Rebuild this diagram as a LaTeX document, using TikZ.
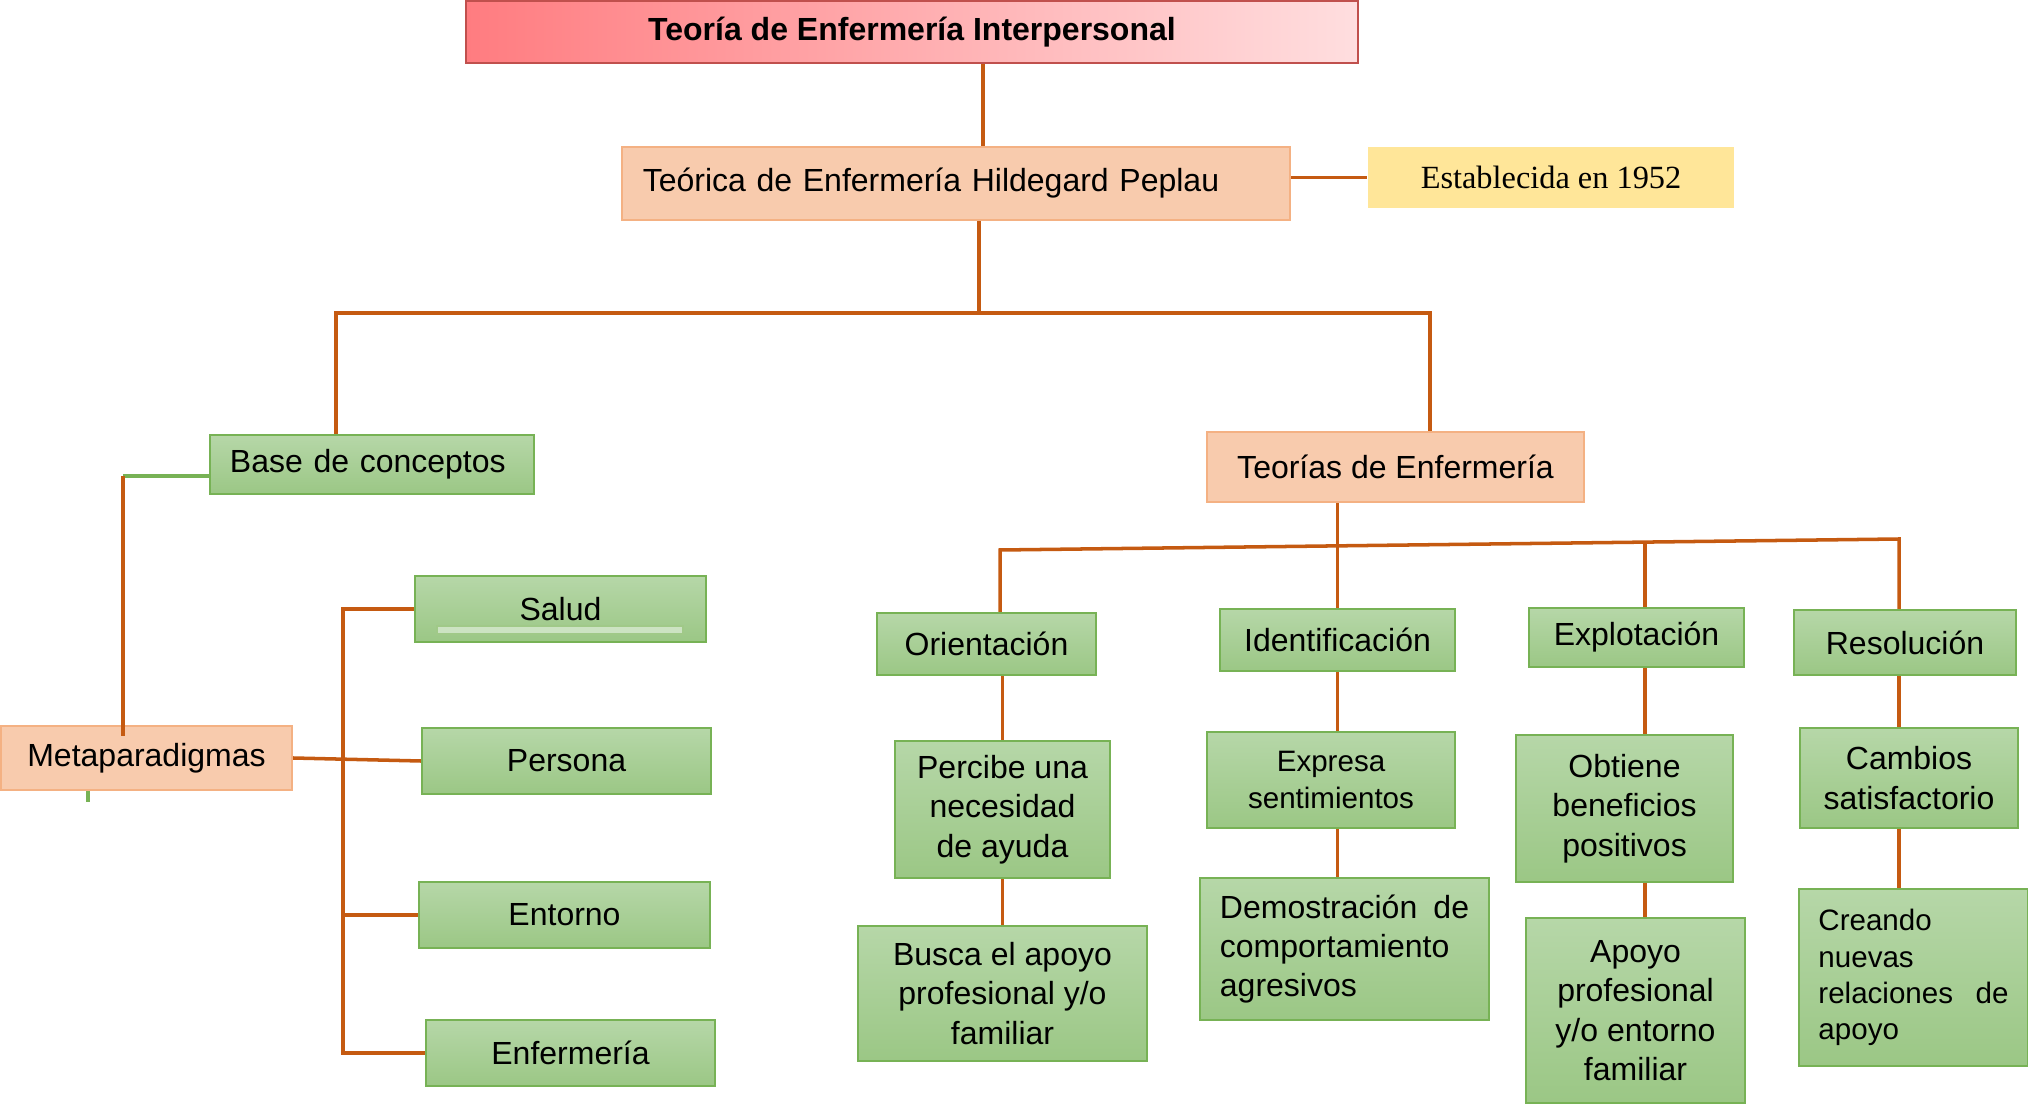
\documentclass[tikz,border=0pt]{standalone}
\usepackage{fontspec}
\setmainfont{Liberation Sans}
\newfontfamily\romana{Liberation Serif}
\usepackage{tikz}
\usetikzlibrary{calc}
\usepackage{xcolor}
\definecolor{naranja}{HTML}{C55A11}
\definecolor{verdeborde}{HTML}{77B255}
\definecolor{verdearriba}{HTML}{B6D7A8}
\definecolor{verdeabajo}{HTML}{9BC785}
\definecolor{durazno}{HTML}{F8CBAD}
\definecolor{duraznoborde}{HTML}{F4B183}
\definecolor{rojoborde}{HTML}{C0504D}
\definecolor{rojoizq}{HTML}{FF7C80}
\definecolor{rojoder}{HTML}{FFDEDF}
\definecolor{amarillo}{HTML}{FFE699}

\tikzset{
    caja/.style={rectangle, inner sep=0pt, font=\fontsize{9.1}{11.2}\selectfont},
    cajaverde/.style={caja, draw=verdeborde, line width=0.6pt, top color=verdearriba, bottom color=verdeabajo},
    cajadurazno/.style={caja, draw=duraznoborde, line width=0.6pt, fill=durazno},
    cajatitulo/.style={caja, draw=rojoborde, line width=0.6pt, left color=rojoizq, right color=rojoder, font=\fontsize{9.1}{11.2}\selectfont\bfseries},
    chica/.style={font=\fontsize{8.4}{10.3}\selectfont},
    conector/.style={draw=naranja, line width=1pt},
    conectorverde/.style={draw=verdeborde, line width=1pt}
}

\begin{document}
\begin{tikzpicture}[x=0.01cm, y=-0.01cm]
    \useasboundingbox (0,0) rectangle (2028,1104);
    % arriba
    \node[cajatitulo, minimum width=8.92cm, minimum height=0.62cm] (titulo) at (912,32) {Teoría de Enfermería Interpersonal};
    \node[cajadurazno, minimum width=6.68cm, minimum height=0.73cm, text width=6.26cm, align=left] (peplau) at (956,183.5) {Teórica de Enfermería Hildegard Peplau};
    \node[caja, fill=amarillo, minimum width=3.66cm, minimum height=0.61cm, font=\romana\fontsize{9.2}{11}\selectfont] (fecha) at (1551,177.5) {Establecida en 1952};
    \node[cajaverde, minimum width=3.24cm, minimum height=0.59cm, text width=2.84cm, align=left] (base) at (372,464.5) {Base de conceptos};
    \node[cajadurazno, minimum width=3.77cm, minimum height=0.70cm] (teorias) at (1395.5,467) {Teorías de Enfermería};
    % metaparadigmas
    \node[cajadurazno, minimum width=2.91cm, minimum height=0.64cm] (meta) at (146.5,758) {Metaparadigmas};
    \node[cajaverde, minimum width=2.91cm, minimum height=0.66cm] (salud) at (560.5,609) {Salud};
    \draw[draw=verdeborde!70, fill=verdearriba!70!white, line width=0.3pt] (437,626) rectangle (683,634);
    \node[cajaverde, minimum width=2.89cm, minimum height=0.66cm] (persona) at (566.5,761) {Persona};
    \node[cajaverde, minimum width=2.91cm, minimum height=0.66cm] (entorno) at (564.5,915) {Entorno};
    \node[cajaverde, minimum width=2.89cm, minimum height=0.66cm] (enfermeria) at (570.5,1053) {Enfermería};
    % fases
    \node[cajaverde, minimum width=2.19cm, minimum height=0.62cm] (orient) at (986.5,644) {Orientación};
    \node[cajaverde, minimum width=2.35cm, minimum height=0.62cm] (ident) at (1337.5,640) {Identificación};
    \node[cajaverde, minimum width=2.15cm, minimum height=0.59cm] (explot) at (1636.5,637.5) {Explotación};
    \node[cajaverde, minimum width=2.22cm, minimum height=0.65cm] (resol) at (1905,642.5) {Resolución};
    \node[cajaverde, minimum width=2.15cm, minimum height=1.37cm, align=center] (percibe) at (1002.5,809.5) {Percibe una\\necesidad\\de ayuda};
    \node[cajaverde, minimum width=2.89cm, minimum height=1.35cm, align=center] (busca) at (1002.5,993.5) {Busca el apoyo\\profesional y/o\\familiar};
    \node[cajaverde, chica, minimum width=2.48cm, minimum height=0.96cm, align=center] (expresa) at (1331,780) {Expresa\\sentimientos};
    \node[cajaverde, minimum width=2.89cm, minimum height=1.42cm, text width=2.49cm, align=left] (demo) at (1344.5,949) {Demostración\hfill de\\comportamiento\\agresivos};
    \node[cajaverde, minimum width=2.17cm, minimum height=1.47cm, align=center] (obtiene) at (1624.5,808.5) {Obtiene\\beneficios\\positivos};
    \node[cajaverde, minimum width=2.19cm, minimum height=1.85cm, align=center] (apoyo) at (1635.5,1010.5) {Apoyo\\profesional\\y/o entorno\\familiar};
    \node[cajaverde, minimum width=2.18cm, minimum height=1.00cm, align=center] (cambios) at (1909,778) {Cambios\\satisfactorio};
    \node[cajaverde, chica, minimum width=2.29cm, minimum height=1.77cm, text width=1.90cm, align=left] (creando) at (1913.5,977.5) {Creando\\nuevas\\relaciones\hfill de\\apoyo};

    % conectores
    \coordinate (nudo) at (979,313);
    \coordinate (barraI) at (336,313);
    \coordinate (barraD) at (1430,313);
    \draw[conector] ([xshift=0.71cm]titulo.south) -- ([xshift=0.71cm]titulo.south |- peplau.north);
    \draw[conector] (fecha.west -| peplau.east) -- (fecha.west);
    \draw[conector] (nudo |- peplau.south) -- (nudo);
    \draw[conector] (barraI |- base.north) -- (barraI) -- (barraD) -- (barraD |- teorias.north);

    \coordinate (codo) at (123,476);
    \draw[conectorverde] (codo -| base.west) -- (codo);
    \draw[conector] (codo) -- ([yshift=-0.11cm]codo |- meta.north);
    \draw[conectorverde] ([xshift=-0.585cm]meta.south) -- ++(0,11);
    \draw[conector] (meta.east) -- (persona.west);
    \coordinate (llave) at (343,0);
    \draw[conector] (salud.west) -- (salud.west -| llave) -- (enfermeria.west -| llave) -- (enfermeria.west);
    \draw[conector] (entorno.west -| llave) -- (entorno.west);

    \coordinate (ramaI) at (1000,550);
    \coordinate (ramaD) at (1899,539);
    \coordinate (ramaE) at ($(ramaI)!0.7175!(ramaD)$);
    \draw[conector] (ramaI |- orient.north) -- (ramaI) -- (ramaD) -- (ramaD |- resol.north);
    \draw[conector] (ramaE) -- (ramaE |- explot.north);
    \draw[conector] (teorias.south -| ident.north) -- (ident.north);

    \draw[conector] (orient.south -| percibe.north) -- (percibe.north);
    \draw[conector] (percibe.south) -- (busca.north);
    \draw[conector] (ident.south) -- (ident.south |- expresa.north);
    \draw[conector] (ident.south |- expresa.south) -- (ident.south |- demo.north);
    \draw[conector] (ramaE |- explot.south) -- (ramaE |- obtiene.north);
    \draw[conector] (ramaE |- obtiene.south) -- (ramaE |- apoyo.north);
    \draw[conector] (ramaD |- resol.south) -- (ramaD |- cambios.north);
    \draw[conector] (ramaD |- cambios.south) -- (ramaD |- creando.north);
\end{tikzpicture}
\end{document}
